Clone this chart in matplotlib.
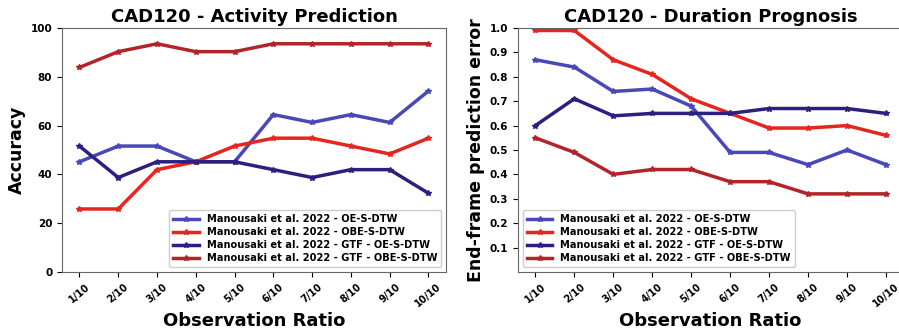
import matplotlib
matplotlib.use("Agg")
import matplotlib.pyplot as plt

ratios = ['1/10', '2/10', '3/10', '4/10', '5/10', '6/10', '7/10', '8/10', '9/10', '10/10']

labels = ['Manousaki et al. 2022 - OE-S-DTW',
          'Manousaki et al. 2022 - OBE-S-DTW',
          'Manousaki et al. 2022 - GTF - OE-S-DTW',
          'Manousaki et al. 2022 - GTF - OBE-S-DTW']
colors = ['#4848b8', '#e5261f', '#2b2080', '#b3232a']

# activity prediction accuracy (%)
acc_oe = [45.16, 51.61, 51.61, 45.16, 45.16, 64.52, 61.29, 64.52, 61.29, 74.19]
acc_obe = [25.81, 25.81, 41.94, 45.16, 51.61, 54.84, 54.84, 51.61, 48.39, 54.84]
acc_gtf_oe = [51.61, 38.71, 45.16, 45.16, 45.16, 41.94, 38.71, 41.94, 41.94, 32.26]
acc_gtf_obe = [83.87, 90.32, 93.55, 90.32, 90.32, 93.55, 93.55, 93.55, 93.55, 93.55]

# end-frame prediction error
err_oe = [0.87, 0.84, 0.74, 0.75, 0.68, 0.49, 0.49, 0.44, 0.50, 0.44]
err_obe = [0.99, 0.99, 0.87, 0.81, 0.71, 0.65, 0.59, 0.59, 0.60, 0.56]
err_gtf_oe = [0.60, 0.71, 0.64, 0.65, 0.65, 0.65, 0.67, 0.67, 0.67, 0.65]
err_gtf_obe = [0.55, 0.49, 0.40, 0.42, 0.42, 0.37, 0.37, 0.32, 0.32, 0.32]

plt.rcParams['font.family'] = 'DejaVu Sans'
plt.rcParams['font.weight'] = 'bold'

fig = plt.figure(figsize=(8.99, 3.30), dpi=100)
ax1 = fig.add_axes([0.069, 0.176, 0.427, 0.739])
ax2 = fig.add_axes([0.576, 0.176, 0.429, 0.739])


def draw(ax, series, title, ylabel, loc):
    x = range(len(ratios))
    for vals, lab, col in zip(series, labels, colors):
        ax.plot(x, vals, color=col, lw=2.5, marker='*', ms=4, label=lab)
    ax.set_xticks(list(x))
    ax.set_xticklabels(ratios, rotation=40, fontsize=7, fontweight='bold')
    ax.tick_params(axis='y', labelsize=7.5)
    for t in ax.get_yticklabels():
        t.set_fontweight('bold')
    ax.set_title(title, fontsize=13, fontweight='bold', pad=4)
    ax.set_xlabel('Observation Ratio', fontsize=13, fontweight='bold', labelpad=2)
    ax.set_ylabel(ylabel, fontsize=12.5, fontweight='bold', labelpad=3)
    for s in ax.spines.values():
        s.set_color('#666666')
    leg = ax.legend(loc=loc, fontsize=7.1, handlelength=2.6, borderpad=0.4,
                    labelspacing=0.3, framealpha=1)
    for t in leg.get_texts():
        t.set_fontweight('bold')


draw(ax1, [acc_oe, acc_obe, acc_gtf_oe, acc_gtf_obe],
     'CAD120 - Activity Prediction', 'Accuracy', 'lower right')
ax1.set_ylim(0, 100)
ax1.set_yticks([0, 20, 40, 60, 80, 100])

draw(ax2, [err_oe, err_obe, err_gtf_oe, err_gtf_obe],
     'CAD120 - Duration Prognosis', 'End-frame prediction error', 'lower left')
ax2.set_ylim(0, 1.0)
ax2.set_yticks([0.1, 0.2, 0.3, 0.4, 0.5, 0.6, 0.7, 0.8, 0.9, 1.0])
ax2.set_yticklabels(['0.1', '0.2', '0.3', '0.4', '0.5', '0.6', '0.7', '0.8', '0.9', '1.0'])

fig.savefig('out.png', dpi=100)
